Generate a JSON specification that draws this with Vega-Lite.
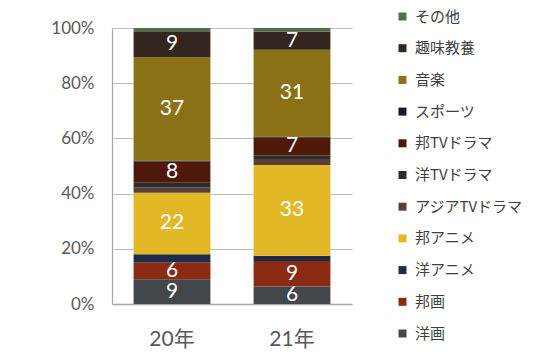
{
  "$schema": "https://vega.github.io/schema/vega-lite/v6.json",
  "width": 240,
  "height": 276,
  "autosize": "none",
  "padding": {"left": 112, "top": 28, "right": 190, "bottom": 57},
  "background": "white",
  "config": {
    "view": {"stroke": null},
    "font": "Lato, Noto Sans CJK JP"
  },
  "data": {
    "values": [
      {"year": "20年", "cat": "洋画", "value": 8.95},
      {"year": "20年", "cat": "邦画", "value": 6.16},
      {"year": "20年", "cat": "洋アニメ", "value": 2.9},
      {"year": "20年", "cat": "邦アニメ", "value": 22.3},
      {"year": "20年", "cat": "アジアTVドラマ", "value": 2.0},
      {"year": "20年", "cat": "洋TVドラマ", "value": 1.6},
      {"year": "20年", "cat": "邦TVドラマ", "value": 7.7},
      {"year": "20年", "cat": "スポーツ", "value": 0.36},
      {"year": "20年", "cat": "音楽", "value": 37.4},
      {"year": "20年", "cat": "趣味教養", "value": 9.4},
      {"year": "20年", "cat": "その他", "value": 1.2},
      {"year": "21年", "cat": "洋画", "value": 6.3},
      {"year": "21年", "cat": "邦画", "value": 9.3},
      {"year": "21年", "cat": "洋アニメ", "value": 1.9},
      {"year": "21年", "cat": "邦アニメ", "value": 32.9},
      {"year": "21年", "cat": "アジアTVドラマ", "value": 2.1},
      {"year": "21年", "cat": "洋TVドラマ", "value": 1.3},
      {"year": "21年", "cat": "邦TVドラマ", "value": 6.6},
      {"year": "21年", "cat": "スポーツ", "value": 0.3},
      {"year": "21年", "cat": "音楽", "value": 31.4},
      {"year": "21年", "cat": "趣味教養", "value": 6.6},
      {"year": "21年", "cat": "その他", "value": 1.3}
    ]
  },
  "transform": [
    {"calculate": "indexof(['洋画','邦画','洋アニメ','邦アニメ','アジアTVドラマ','洋TVドラマ','邦TVドラマ','スポーツ','音楽','趣味教養','その他'], datum.cat)", "as": "ord"},
    {"stack": "value", "groupby": ["year"], "sort": [{"field": "ord", "order": "ascending"}], "as": ["y0", "y1"], "offset": "normalize"},
    {"calculate": "(datum.y0 + datum.y1) / 2", "as": "ymid"},
    {"calculate": "format(datum.value, '.0f')", "as": "label"}
  ],
  "encoding": {
    "x": {
      "field": "year",
      "type": "nominal",
      "title": null,
      "scale": {"paddingInner": 0.36, "paddingOuter": 0.18},
      "axis": {
        "labelAngle": 0,
        "ticks": false,
        "labelPadding": 24,
        "labelFontSize": 21,
        "labelColor": "#595959",
        "domainColor": "#a6a6a6",
        "domainWidth": 1.5
      }
    }
  },
  "layer": [
    {
      "mark": {"type": "bar"},
      "encoding": {
        "y": {
          "field": "y0",
          "type": "quantitative",
          "title": null,
          "scale": {"domain": [0, 1]},
          "axis": {
            "format": ".0%",
            "values": [0, 0.2, 0.4, 0.6, 0.8, 1],
            "ticks": false,
            "labelPadding": 18,
            "labelFontSize": 17,
            "labelColor": "#595959",
            "gridColor": "#bfbfbf",
            "gridWidth": 1.2,
            "domainColor": "#a6a6a6",
            "domainWidth": 1.2
          }
        },
        "y2": {"field": "y1"},
        "color": {
          "field": "cat",
          "type": "nominal",
          "scale": {
            "domain": ["その他", "趣味教養", "音楽", "スポーツ", "邦TVドラマ", "洋TVドラマ", "アジアTVドラマ", "邦アニメ", "洋アニメ", "邦画", "洋画"],
            "range": ["#4f6e4b", "#33261f", "#8b7115", "#131b29", "#4e190b", "#2b2c2f", "#5a3f37", "#e2b827", "#1e2c4a", "#8a2a12", "#42474c"]
          },
          "legend": {
            "title": null,
            "orient": "none",
            "legendX": 283,
            "legendY": -19,
            "symbolType": "square",
            "symbolSize": 64,
            "symbolStrokeWidth": 0,
            "labelFontSize": 15,
            "labelColor": "#404040",
            "labelOffset": 5,
            "rowPadding": 15.7,
            "labelFont": "Noto Sans CJK JP"
          }
        }
      }
    },
    {
      "transform": [{"filter": "datum.value >= 5"}],
      "mark": {"type": "text", "color": "white", "fontSize": 21, "baseline": "middle", "align": "center"},
      "encoding": {
        "y": {"field": "ymid", "type": "quantitative"},
        "text": {"field": "label"}
      }
    }
  ]
}
